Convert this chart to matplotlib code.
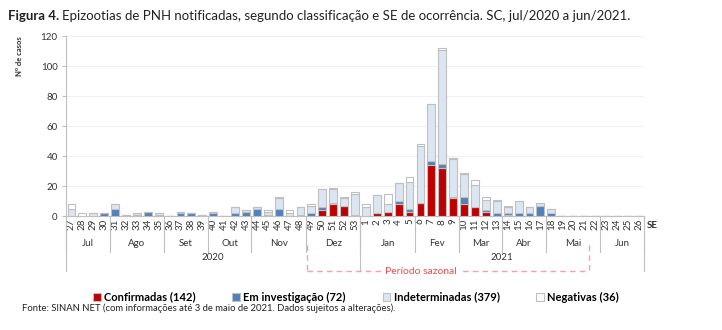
import numpy as np
import matplotlib.pyplot as plt
from matplotlib.patches import Patch

plt.rcParams['font.family'] = ['Lato', 'DejaVu Sans']

# semanas epidemiologicas: 27-53 de 2020 e 1-26 de 2021
semanas = [str(s) for s in range(27, 54)] + [str(s) for s in range(1, 27)]

confirmadas = [0, 0, 0, 0, 0, 0, 0, 0, 0, 0, 0, 0, 0, 0, 0, 0, 0, 0, 0, 0, 0, 1, 0, 4, 8, 7, 1,
               0, 2, 3, 8, 3, 9, 34, 32, 12, 8, 6, 3, 0, 1, 0, 0, 0, 0, 0, 0, 0, 0, 0, 0, 0, 0]
investigacao = [0, 0, 0, 2, 5, 0, 1, 3, 1, 0, 2, 2, 0, 2, 0, 2, 3, 5, 1, 5, 0, 0, 2, 2, 1, 0, 0,
                0, 0, 0, 2, 2, 0, 3, 3, 1, 5, 0, 1, 2, 1, 2, 2, 7, 2, 0, 0, 0, 0, 0, 0, 0, 0]
indeterminadas = [5, 0, 2, 0, 3, 1, 1, 0, 1, 0, 1, 0, 1, 1, 0, 4, 1, 1, 2, 7, 2, 5, 5, 12, 9, 5, 14,
                  6, 12, 5, 12, 18, 38, 38, 76, 25, 15, 15, 7, 8, 4, 8, 4, 2, 3, 0, 0, 0, 0, 0, 0, 0, 0]
negativas = [3, 2, 0, 0, 0, 0, 0, 0, 0, 0, 0, 0, 0, 0, 0, 0, 0, 0, 1, 1, 2, 0, 1, 0, 1, 1, 1,
             2, 0, 7, 0, 3, 1, 0, 1, 1, 1, 3, 2, 1, 1, 0, 0, 0, 0, 0, 0, 0, 0, 0, 0, 0, 0]

meses = ["Jul", "Ago", "Set", "Out", "Nov", "Dez", "Jan", "Fev", "Mar", "Abr", "Mai", "Jun"]
semanas_mes = [4, 5, 4, 4, 5, 5, 5, 4, 4, 4, 5, 4]
anos = ["2020", "2021"]
semanas_ano = [27, 26]

series = [
    ("Confirmadas", confirmadas, "#c00000"),
    ("Em investigação", investigacao, "#4f81bd"),
    ("Indeterminadas", indeterminadas, "#dce6f2"),
    ("Negativas", negativas, "#ffffff"),
]

fig = plt.figure(figsize=(7.22, 3.3), dpi=100)
ax = fig.add_axes([66 / 722, 1 - 216 / 330, 578 / 722, 180 / 330])

x = np.arange(len(semanas))
bottom = np.zeros(len(semanas))
handles = []
for nome, vals, cor in series:
    vals = np.array(vals)
    ax.bar(x, vals, 0.72, bottom=bottom, color=cor, edgecolor="#bfbfbf", linewidth=0.8, zorder=3)
    bottom += vals
    handles.append(Patch(facecolor=cor, edgecolor="#bfbfbf", linewidth=0.8,
                         label=f"{nome} ({vals.sum()})"))

ax.set_xlim(-0.5, len(semanas) - 0.5)
ax.set_ylim(0, 120)
ax.set_yticks(range(0, 121, 20))
ax.tick_params(axis="y", labelsize=7, length=3, color="#bfbfbf", pad=3, labelcolor="#333333")
ax.set_xticks(x)
ax.set_xticklabels(semanas, rotation=90, fontsize=7, color="#333333")
ax.tick_params(axis="x", length=0, pad=2)
ax.grid(axis="y", color="#f0f0f0", linewidth=0.8, zorder=0)
for s in ["top", "right"]:
    ax.spines[s].set_visible(False)
for s in ["left", "bottom"]:
    ax.spines[s].set_color("#bfbfbf")

tr = ax.get_xaxis_transform()
px = 1 / 180  # um pixel em fracao do eixo

# linhas e rotulos dos meses
pos = -0.5
for mes, n in zip(meses, semanas_mes):
    ax.text(pos + n / 2, -27 * px, mes, transform=tr, ha="center", va="center",
            fontsize=7, color="#333333")
    ax.plot([pos, pos], [0, -36 * px], transform=tr, color="#bfbfbf", lw=0.8, clip_on=False)
    pos += n
ax.plot([pos, pos], [0, -36 * px], transform=tr, color="#bfbfbf", lw=0.8, clip_on=False)

# linhas e rotulos dos anos
pos = -0.5
for ano, n in zip(anos, semanas_ano):
    ax.text(pos + n / 2, -42 * px, ano, transform=tr, ha="center", va="center",
            fontsize=7, color="#333333")
    ax.plot([pos, pos], [0, -55 * px], transform=tr, color="#bfbfbf", lw=0.8, clip_on=False)
    pos += n
ax.plot([pos, pos], [0, -55 * px], transform=tr, color="#bfbfbf", lw=0.8, clip_on=False)

ax.text(1.005, -10 * px, "SE", transform=ax.transAxes, ha="left", va="center",
        fontsize=7, fontweight="bold", color="#333333")

# periodo sazonal (dez a mai)
x0, x1 = 21.6, 47.5
yb = -55 * px
dash = dict(transform=tr, color="#f4a3a3", lw=1, ls=(0, (4, 3)), clip_on=False)
ax.plot([x0, x0], [-29 * px, yb], **dash)
ax.plot([x1, x1], [-29 * px, yb], **dash)
ax.plot([x0, x1], [yb, yb], **dash)
ax.text(32.0, yb, "Período sazonal", transform=tr, ha="center", va="center", fontsize=7.5,
        color="#e8504f", bbox=dict(facecolor="white", edgecolor="none", pad=2))

fig.text(19 / 722, 1 - 56 / 330, "Nº de casos", rotation=90, ha="center", va="center",
         fontsize=5.5, fontweight="bold", color="#333333")

fig.legend(handles=handles, loc="center", bbox_to_anchor=(356 / 722, 1 - 297 / 330), ncol=4,
           frameon=False, prop={"weight": "bold", "size": 8}, handlelength=0.7,
           handleheight=0.7, handletextpad=0.3, columnspacing=3.3)

fig.text(22 / 722, 1 - 308 / 330,
         "Fonte: SINAN NET (com informações até 3 de maio de 2021. Dados sujeitos a alterações).",
         ha="left", va="center", fontsize=6.8, color="#222222")

# titulo
renderer = fig.canvas.get_renderer()
t1 = fig.text(8 / 722, 1 - 16 / 330, "Figura 4.", ha="left", va="center", fontsize=9.5,
              fontweight="bold", color="#222222")
w = t1.get_window_extent(renderer).width
fig.text((8 + w + 3) / 722, 1 - 16 / 330,
         "Epizootias de PNH notificadas, segundo classificação e SE de ocorrência. SC, jul/2020 a jun/2021.",
         ha="left", va="center", fontsize=9.5, color="#222222")

fig.savefig("out.png", dpi=100)
